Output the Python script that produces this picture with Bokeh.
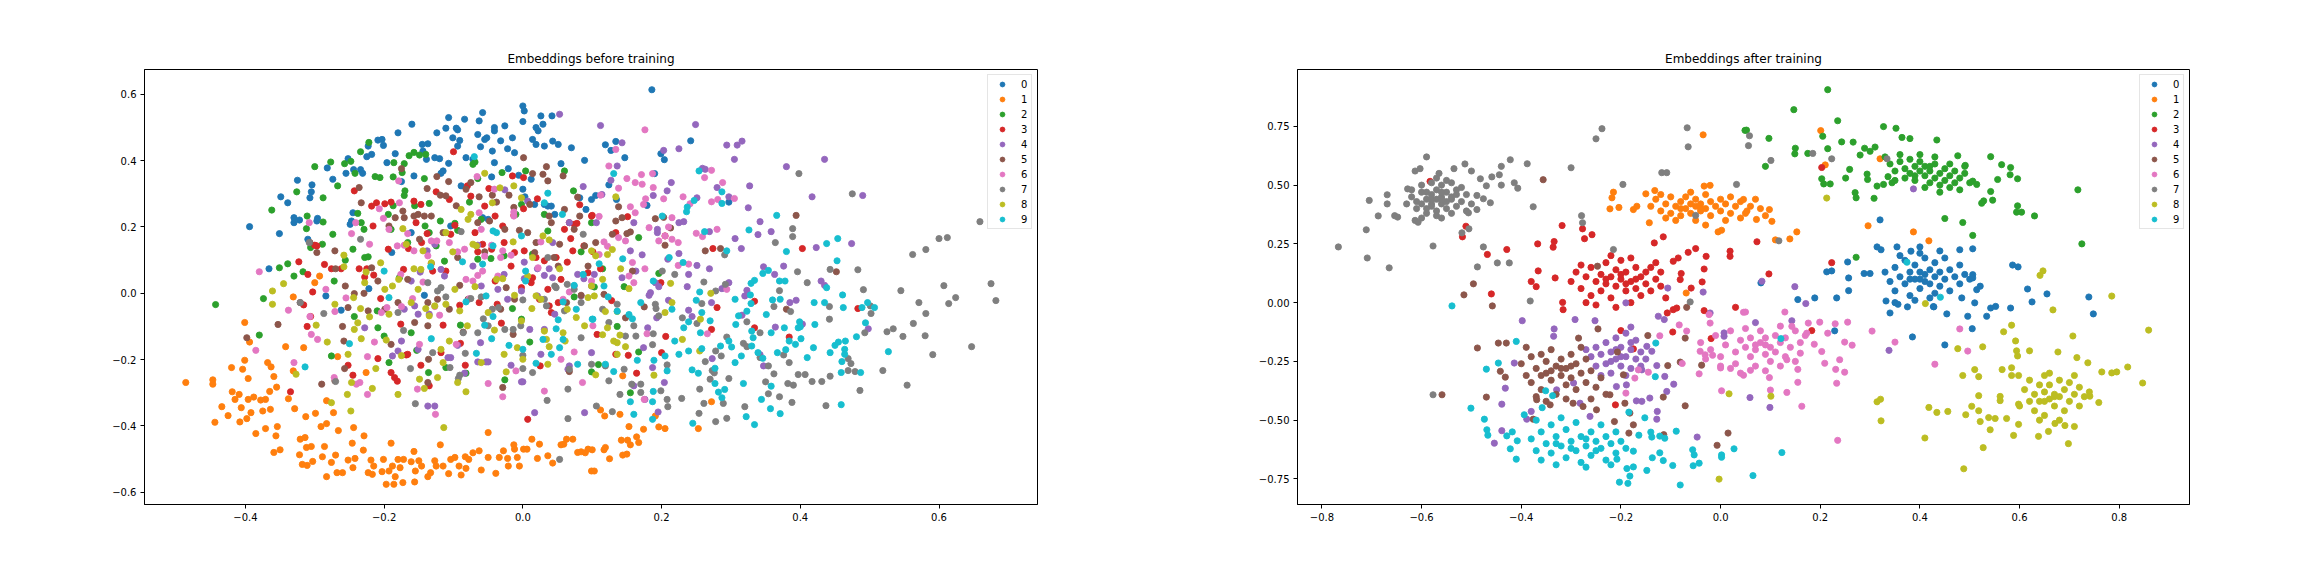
from bokeh.embed import file_html
from bokeh.layouts import row
from bokeh.models import CustomJSTickFormatter, FixedTicker, Range1d
from bokeh.plotting import figure
from bokeh.resources import INLINE

LABELS = ["0", "1", "2", "3", "4", "5", "6", "7", "8", "9"]
COLORS = ["#1f77b4", "#ff7f0e", "#2ca02c", "#d62728", "#9467bd",
          "#8c564b", "#e377c2", "#7f7f7f", "#bcbd22", "#17becf"]

# ---- embeddings before training, one list of (x, y) per digit ----
BEFORE_0 = [(-0.394,0.201),(-0.366,0.074),(-0.351,0.18),(-0.349,0.291),(-0.339,0.273),(-0.33,0.228),(-0.33,0.213),(-0.325,0.341),
            (-0.322,0.221),(-0.307,0.288),(-0.304,0.327),(-0.305,0.306),(-0.297,0.218),(-0.296,0.226),(-0.31,0.163),(-0.282,0.378),
            (-0.274,0.344),(-0.284,-0.008),(-0.262,-0.051),(-0.255,0.362),(-0.252,0.406),(-0.247,0.218),(-0.249,0.208),(-0.245,0.243),
            (-0.244,0.373),(-0.234,0.373),(-0.231,0.362),(-0.225,0.412),(-0.218,0.419),(-0.223,0.444),(-0.209,0.462),(-0.203,0.464),
            (-0.201,0.446),(-0.196,0.394),(-0.184,0.421),(-0.18,0.484),(-0.175,0.337),(-0.16,0.51),(-0.157,0.354),(-0.145,0.449),
            (-0.144,0.429),(-0.137,0.451),(-0.139,0.404),(-0.127,0.409),(-0.124,0.484),(-0.12,0.406),(-0.118,0.362),(-0.115,0.369),
            (-0.111,0.498),(-0.107,0.53),(-0.107,0.392),(-0.101,0.469),(-0.096,0.498),(-0.094,0.493),(-0.094,0.444),(-0.091,0.461),
            (-0.089,0.324),(-0.084,0.525),(-0.082,0.409),(-0.072,0.404),(-0.065,0.479),(-0.063,0.52),(-0.061,0.442),(-0.058,0.545),
            (-0.055,0.464),(-0.052,0.469),(-0.045,0.351),(-0.044,0.429),(-0.041,0.394),(-0.041,0.5),(-0.041,0.49),(-0.032,0.46),
            (-0.026,0.505),(-0.022,0.436),(-0.021,0.376),(-0.015,0.469),(-0.012,0.424),(0.0,0.565),(0.002,0.55),(0.0,0.518),
            (0.014,0.464),(0.019,0.449),(0.019,0.5),(0.022,0.49),(0.026,0.535),(0.029,0.51),(0.031,0.444),(0.042,0.535),
            (0.043,0.459),(0.051,0.449),(0.055,0.391),(0.07,0.439),(0.089,0.401),(0.031,0.268),(0.036,0.263),(0.041,0.263),
            (0.046,0.238),(0.003,0.291),(0.012,0.344),(-0.05,0.223),(-0.058,0.228),(-0.104,0.203),(-0.161,0.183),(-0.189,0.123),
            (-0.222,0.014),(-0.142,-0.006),(0.091,0.253),(0.099,0.283),(0.082,0.288),(0.017,0.268),(0.0,0.314),(-0.006,0.356),
            (0.186,0.614),(0.134,0.458),(0.119,0.448),(0.127,0.431),(0.147,0.409),(0.199,0.421),(0.204,0.403),(0.242,0.46),
            (0.19,0.361),(0.124,0.327),(0.135,0.283),(0.179,0.265),(0.297,0.275),(0.105,0.295)]

BEFORE_1 = [(-0.486,-0.269),(-0.447,-0.261),(-0.447,-0.274),(-0.444,-0.389),(-0.434,-0.342),(-0.425,-0.369),(-0.419,-0.297),
            (-0.415,-0.32),(-0.409,-0.305),(-0.406,-0.345),(-0.408,-0.388),(-0.401,-0.088),(-0.404,-0.229),(-0.42,-0.224),
            (-0.401,-0.202),(-0.396,-0.257),(-0.396,-0.32),(-0.392,-0.36),(-0.398,-0.378),(-0.394,-0.147),(-0.388,-0.313),
            (-0.385,-0.423),(-0.378,-0.322),(-0.375,-0.355),(-0.371,-0.32),(-0.371,-0.408),(-0.368,-0.209),(-0.363,-0.222),
            (-0.364,-0.35),(-0.359,-0.251),(-0.365,-0.296),(-0.355,-0.283),(-0.356,-0.43),(-0.354,-0.402),(-0.359,-0.48),
            (-0.35,-0.472),(-0.342,-0.161),(-0.338,-0.318),(-0.331,-0.011),(-0.329,-0.348),(-0.316,-0.164),(-0.313,-0.372),
            (-0.321,-0.44),(-0.314,-0.435),(-0.322,-0.487),(-0.318,-0.516),(-0.312,-0.465),(-0.311,-0.519),(-0.305,-0.462),
            (-0.303,-0.507),(-0.299,-0.362),(-0.291,-0.402),(-0.283,-0.324),(-0.283,-0.393),(-0.283,-0.553),(-0.286,-0.462),
            (-0.289,-0.493),(-0.276,-0.51),(-0.273,-0.36),(-0.27,-0.488),(-0.268,-0.541),(-0.266,-0.414),(-0.26,-0.541),
            (-0.252,-0.503),(-0.246,-0.452),(-0.245,-0.526),(-0.244,-0.405),(-0.242,-0.498),(-0.23,-0.473),(-0.229,-0.43),
            (-0.226,-0.239),(-0.223,-0.541),(-0.219,-0.503),(-0.217,-0.546),(-0.215,-0.521),(-0.203,-0.538),(-0.201,-0.501),
            (-0.197,-0.576),(-0.193,-0.536),(-0.19,-0.452),(-0.188,-0.521),(-0.186,-0.576),(-0.184,-0.553),(-0.18,-0.501),
            (-0.177,-0.526),(-0.173,-0.571),(-0.172,-0.501),(-0.161,-0.508),(-0.157,-0.477),(-0.156,-0.569),(-0.155,-0.536),
            (-0.15,-0.505),(-0.146,-0.521),(-0.137,-0.553),(-0.133,-0.541),(-0.127,-0.505),(-0.125,-0.521),(-0.119,-0.457),
            (-0.115,-0.521),(-0.107,-0.544),(-0.104,-0.501),(-0.098,-0.495),(-0.092,-0.521),(-0.089,-0.548),(-0.083,-0.493),
            (-0.082,-0.528),(-0.078,-0.501),(-0.072,-0.481),(-0.063,-0.475),(-0.06,-0.533),(-0.05,-0.42),(-0.05,-0.495),
            (-0.039,-0.543),(-0.034,-0.495),(-0.028,-0.475),(-0.022,-0.498),(-0.021,-0.521),(-0.013,-0.457),(-0.012,-0.47),
            (-0.008,-0.495),(-0.005,-0.521),(0.001,-0.47),(0.006,-0.47),(0.013,-0.44),(0.021,-0.498),(0.024,-0.455),
            (0.036,-0.49),(0.043,-0.512),(0.055,-0.457),(0.059,-0.455),(0.063,-0.44),(0.072,-0.44),(0.079,-0.48),
            (0.084,-0.478),(0.09,-0.481),(0.094,-0.47),(0.099,-0.536),(-0.267,-0.191),(-0.331,-0.234),(-0.293,0.052),
            (-0.3,0.032),(0.103,-0.536),(0.1,-0.472),(0.117,-0.472),(0.119,-0.465),(0.125,-0.499),(0.144,-0.488),
            (0.15,-0.485),(0.142,-0.443),(0.151,-0.443),(0.155,-0.457),(0.164,-0.433),(0.167,-0.45),(0.174,-0.41),
            (0.153,-0.402),(0.14,-0.365),(0.118,-0.37),(0.112,-0.352),(0.144,-0.249),(0.196,-0.403),(0.205,-0.408),
            (0.191,-0.37),(0.253,-0.408),(0.272,-0.327)]

BEFORE_2 = [(-0.443,-0.034),(-0.374,-0.016),(-0.362,0.251),(-0.351,0.077),(-0.339,0.089),(-0.33,0.052),(-0.326,0.306),
            (-0.317,0.065),(-0.312,0.195),(-0.311,0.233),(-0.306,0.138),(-0.3,0.382),(-0.289,0.148),(-0.288,0.288),
            (-0.288,0.215),(-0.38,-0.126),(-0.277,0.396),(-0.276,-0.189),(-0.274,0.178),(-0.272,0.037),(-0.267,0.324),
            (-0.257,0.391),(-0.256,0.1),(-0.248,0.398),(-0.245,0.133),(-0.243,-0.07),(-0.242,0.362),(-0.238,0.241),
            (-0.234,0.427),(-0.233,0.213),(-0.229,0.193),(-0.228,0.108),(-0.223,0.11),(-0.222,0.455),(-0.213,0.352),
            (-0.21,-0.053),(-0.209,-0.104),(-0.206,0.349),(-0.2,-0.129),(-0.194,0.238),(-0.193,-0.209),(-0.19,0.193),
            (-0.187,0.264),(-0.187,0.351),(-0.186,0.394),(-0.178,0.047),(-0.174,0.364),(-0.171,0.391),(-0.17,0.309),
            (-0.166,0.153),(-0.164,0.415),(-0.161,-0.119),(-0.157,0.425),(-0.156,0.264),(-0.153,-0.172),(-0.149,0.417),
            (-0.142,0.346),(-0.141,0.203),(-0.14,0.419),(-0.136,-0.239),(-0.135,0.271),(-0.135,0.183),(-0.125,0.143),
            (-0.119,0.218),(-0.113,0.097),(-0.111,-0.224),(-0.098,0.211),(-0.094,0.19),(-0.09,-0.096),(-0.082,-0.241),
            (-0.077,0.275),(-0.072,0.389),(-0.069,0.396),(-0.065,0.103),(-0.06,0.223),(-0.046,0.105),(-0.03,0.364),
            (-0.027,0.113),(-0.026,-0.261),(-0.015,-0.046),(-0.002,-0.078),(0.004,0.369),(0.01,-0.147),(0.014,0.118),
            (0.031,0.238),(0.036,0.188),(0.06,0.369),(0.073,0.309),(0.074,-0.011),(0.084,0.125),(0.099,-0.237),
            (0.099,0.213),(-0.065,0.346),(-0.002,0.268),(-0.01,0.238),(-0.171,0.295),(0.167,0.168),(0.115,0.074),
            (0.103,0.019),(0.146,0.02),(0.167,-0.177),(0.109,-0.215),(0.155,-0.3),(0.196,0.06),(0.136,-0.1)]

BEFORE_3 = [(-0.335,-0.297),(-0.323,0.095),(-0.316,-0.035),(-0.311,-0.1),(-0.31,0.057),(-0.306,-0.07),(-0.303,0.004),
            (-0.3,0.145),(-0.297,0.143),(-0.286,0.087),(-0.276,0.074),(-0.262,0.074),(-0.252,-0.217),(-0.245,-0.247),
            (-0.243,0.309),(-0.236,0.074),(-0.228,0.049),(-0.225,0.074),(-0.218,0.263),(-0.216,0.203),(-0.215,0.055),
            (-0.211,0.273),(-0.209,-0.197),(-0.205,-0.016),(-0.199,0.27),(-0.194,0.133),(-0.19,0.275),(-0.19,-0.239),
            (-0.185,-0.254),(-0.181,-0.265),(-0.176,-0.093),(-0.172,0.072),(-0.168,-0.186),(-0.166,-0.184),(-0.165,0.135),
            (-0.157,0.278),(-0.154,0.213),(-0.147,-0.217),(-0.147,0.268),(-0.146,0.153),(-0.138,0.18),(-0.135,-0.279),
            (-0.132,0.09),(-0.13,0.067),(-0.125,0.306),(-0.118,-0.179),(-0.115,-0.096),(-0.111,0.067),(-0.106,0.283),
            (-0.104,0.178),(-0.1,0.427),(-0.098,0.205),(-0.091,-0.036),(-0.09,-0.151),(-0.083,-0.217),(-0.08,0.324),
            (-0.075,0.293),(-0.069,0.183),(-0.065,0.125),(-0.063,-0.028),(-0.058,0.148),(-0.055,0.263),(-0.049,0.316),
            (-0.045,0.133),(-0.04,0.037),(-0.04,0.233),(-0.037,-0.033),(-0.031,-0.09),(-0.029,0.203),(-0.027,0.153),
            (-0.017,0.082),(-0.013,0.235),(-0.015,0.354),(-0.012,0.123),(-0.002,0.017),(0.001,0.349),(0.001,0.255),
            (0.002,0.128),(0.007,-0.38),(0.012,0.032),(0.014,0.047),(0.019,0.108),(0.021,0.285),(0.024,-0.018),
            (0.025,-0.219),(0.031,0.098),(0.036,0.012),(0.038,-0.038),(0.041,-0.058),(0.048,0.108),(0.051,-0.028),
            (0.055,0.042),(0.06,0.193),(0.064,0.094),(0.067,0.213),(0.069,0.165),(0.072,0.128),(0.074,0.208),
            (0.078,0.211),(0.082,0.267),(0.088,0.143),(0.094,0.062),(0.099,0.233),(0.101,0.125),(0.1,0.235),
            (0.151,0.231),(0.134,0.183),(0.205,0.173),(0.199,0.032),(0.112,0.074),(0.128,-0.022),(0.107,-0.124),
            (0.134,-0.184),(0.152,-0.187),(0.164,-0.241),(0.206,-0.13),(0.2,-0.179),(0.274,0.135),(0.28,-0.043),
            (0.334,-0.024),(0.334,-0.104),(0.384,-0.132),(0.403,0.135),(0.483,-0.046),(0.272,-0.109)]

BEFORE_4 = [(0.053,0.54),(0.087,0.322),(0.007,0.278),(-0.026,0.312),(0.043,0.153),(0.067,0.213),(0.038,0.074),(0.043,0.047),
            (0.031,0.054),(0.002,0.094),(0.002,0.044),(0.021,0.074),(-0.002,0.007),(0.074,0.022),(0.079,0.057),(0.088,0.044),
            (0.099,0.022),(0.046,-0.063),(0.031,-0.109),(0.01,-0.109),(0.026,-0.184),(0.017,-0.36),(0.0,-0.267),
            (-0.017,-0.217),(-0.05,-0.207),(-0.065,-0.207),(-0.084,-0.241),(-0.108,-0.194),(-0.104,-0.194),(-0.094,-0.157),
            (-0.127,-0.34),(-0.151,-0.169),(-0.18,-0.174),(-0.188,-0.189),(-0.228,-0.104),(-0.175,-0.144),(-0.156,-0.038),
            (-0.151,-0.063),(-0.135,-0.063),(-0.161,0.037),(-0.148,0.064),(-0.138,0.128),(-0.118,0.072),(-0.113,0.052),
            (-0.072,0.082),(-0.06,0.022),(-0.036,0.012),(-0.027,0.057),(-0.022,-0.018),(-0.061,-0.149),(-0.053,-0.207),
            (-0.002,-0.267),(0.089,-0.36),(0.067,-0.219),(0.065,-0.229),(0.099,-0.179),(0.084,-0.008),(-0.127,0.148),
            (-0.171,-0.048),(-0.065,0.145),(0.021,-0.008),(-0.137,-0.34),(0.112,0.506),(0.249,0.509),(0.143,0.454),
            (0.203,0.431),(0.225,0.436),(0.136,0.384),(0.127,0.341),(0.214,0.334),(0.208,0.309),(0.188,0.295),
            (0.259,0.377),(0.263,0.374),(0.28,0.319),(0.294,0.447),(0.309,0.447),(0.316,0.459),(0.305,0.404),
            (0.327,0.324),(0.297,0.291),(0.325,0.258),(0.342,0.216),(0.358,0.186),(0.339,0.177),(0.306,0.165),
            (0.315,0.135),(0.269,0.186),(0.251,0.288),(0.225,0.213),(0.232,0.216),(0.225,0.12),(0.209,0.103),
            (0.194,0.193),(0.194,0.183),(0.16,0.213),(0.155,0.128),(0.172,0.116),(0.163,0.067),(0.143,0.047),
            (0.191,0.032),(0.196,0.02),(0.184,0.002),(0.182,-0.006),(0.21,-0.021),(0.239,0.057),(0.237,0.02),
            (0.251,0.084),(0.269,0.074),(0.287,0.014),(0.297,0.032),(0.272,-0.028),(0.239,-0.051),(0.244,-0.07),
            (0.193,-0.074),(0.18,-0.104),(0.174,-0.164),(0.187,-0.224),(0.204,-0.269),(0.16,-0.279),(0.176,-0.32),
            (0.195,-0.358),(0.273,-0.197),(0.323,0.009),(0.32,-0.008),(0.316,-0.066),(0.347,0.08),(0.363,0.057),
            (0.376,0.082),(0.385,-0.028),(0.394,-0.021),(0.403,-0.093),(0.364,-0.102),(0.347,-0.219),(0.342,-0.185),
            (0.38,0.382),(0.417,0.291),(0.435,0.404),(0.423,0.138),(0.43,0.037),(0.435,0.024),(0.474,0.15),
            (0.49,0.295),(0.498,-0.107),(0.106,0.213),(0.114,0.298),(0.103,0.057)]

BEFORE_5 = [(-0.398,-0.134),(-0.353,-0.094),(-0.321,-0.028),(-0.307,0.153),(-0.297,0.123),(-0.29,-0.274),(-0.271,0.128),
            (-0.27,0.074),(-0.271,-0.264),(-0.26,-0.1),(-0.258,-0.144),(-0.257,-0.227),(-0.256,0.022),(-0.252,-0.043),
            (-0.243,-0.001),(-0.236,0.319),(-0.233,0.273),(-0.229,0.0),(-0.223,-0.053),(-0.218,0.077),(-0.209,0.037),
            (-0.199,-0.048),(-0.193,0.203),(-0.19,-0.154),(-0.184,0.228),(-0.18,-0.028),(-0.175,0.376),(-0.173,0.248),
            (-0.171,0.228),(-0.166,0.042),(-0.157,0.233),(-0.156,-0.088),(-0.151,0.238),(-0.149,0.163),(-0.142,0.233),
            (-0.138,0.316),(-0.137,-0.098),(-0.137,-0.269),(-0.136,-0.199),(-0.132,0.233),(-0.124,0.352),(-0.123,-0.018),
            (-0.119,0.296),(-0.115,0.183),(-0.111,0.294),(-0.107,0.337),(-0.106,-0.048),(-0.096,0.264),(-0.094,0.108),
            (-0.086,-0.117),(-0.082,0.314),(-0.079,-0.018),(-0.075,0.334),(-0.065,0.213),(-0.063,0.291),(-0.055,0.125),
            (-0.048,0.218),(-0.044,0.296),(-0.038,0.275),(-0.032,-0.048),(-0.026,0.193),(-0.024,0.017),(-0.02,0.296),
            (-0.014,-0.124),(-0.013,0.259),(-0.012,-0.018),(-0.005,0.19),(0.001,0.409),(0.007,0.183),(0.01,0.268),
            (0.014,0.361),(0.017,0.123),(0.019,0.153),(0.029,0.359),(0.034,0.382),(0.036,0.339),(0.038,0.233),
            (0.041,0.213),(0.045,0.108),(0.051,0.082),(0.053,0.148),(0.058,0.354),(0.06,0.253),(0.063,-0.028),
            (0.067,-0.236),(0.074,0.193),(0.079,0.29),(0.084,-0.006),(0.082,0.233),(0.089,0.143),(0.094,0.082),
            (-0.029,-0.284),(-0.091,0.024),(-0.137,-0.028),(0.134,0.218),(0.143,0.228),(0.15,0.18),(0.155,0.185),
            (0.129,0.178),(0.138,0.261),(0.191,0.225),(0.205,0.145),(0.203,0.229),(0.213,0.197),(0.175,-0.041),
            (0.148,-0.074),(0.105,0.153),(0.263,0.128),(0.285,0.135),(0.394,0.235),(0.452,0.065),(0.38,-0.048),
            (0.158,0.067),(0.117,-0.003)]

BEFORE_6 = [(-0.38,0.065),(-0.385,-0.172),(-0.338,-0.051),(-0.33,-0.209),(-0.307,-0.07),(-0.305,-0.124),(-0.308,0.213),
            (-0.296,-0.139),(-0.284,0.012),(-0.272,-0.254),(-0.271,-0.055),(-0.255,-0.014),(-0.247,0.18),(-0.241,0.213),
            (-0.24,-0.274),(-0.235,-0.269),(-0.224,-0.305),(-0.224,-0.191),(-0.221,0.148),(-0.214,-0.147),(-0.207,0.255),
            (-0.204,-0.058),(-0.201,0.226),(-0.196,-0.043),(-0.193,0.193),(-0.181,0.143),(-0.179,0.339),(-0.178,0.273),
            (-0.175,-0.04),(-0.176,0.057),(-0.171,0.145),(-0.166,0.18),(-0.159,-0.016),(-0.157,0.128),(-0.152,-0.289),
            (-0.149,-0.154),(-0.144,0.034),(-0.137,0.113),(-0.132,0.158),(-0.127,-0.04),(-0.126,-0.365),(-0.124,0.158),
            (-0.12,-0.066),(-0.096,-0.154),(-0.094,0.125),(-0.084,0.133),(-0.082,0.042),(-0.077,-0.016),(-0.072,0.037),
            (-0.066,0.352),(-0.065,0.054),(-0.063,0.243),(-0.06,0.193),(-0.058,0.067),(-0.05,-0.272),(-0.045,0.145),
            (-0.041,0.314),(-0.036,0.052),(-0.032,0.108),(-0.029,0.128),(-0.029,-0.312),(-0.017,0.115),(-0.013,0.233),
            (-0.013,0.245),(0.022,0.077),(0.026,0.155),(0.031,-0.295),(0.055,-0.199),(0.058,-0.018),(0.067,0.004),
            (0.074,-0.177),(0.086,-0.269),(0.099,0.037),(0.101,-0.098),(-0.01,-0.234),(-0.055,0.112),(-0.106,0.153),
            (0.176,0.493),(0.134,0.434),(0.124,0.384),(0.138,0.317),(0.15,0.346),(0.162,0.334),(0.172,0.329),
            (0.171,0.358),(0.187,0.361),(0.188,0.319),(0.112,0.296),(0.155,0.261),(0.162,0.243),(0.174,0.268),
            (0.177,0.285),(0.203,0.285),(0.215,0.228),(0.21,0.2),(0.196,0.158),(0.205,0.173),(0.215,0.163),
            (0.224,0.153),(0.182,0.198),(0.138,0.168),(0.11,0.232),(0.117,0.155),(0.122,0.142),(0.11,0.117),
            (0.148,0.158),(0.158,0.093),(0.153,0.052),(0.16,0.032),(0.176,0.074),(0.224,0.084),(0.239,0.088),
            (0.231,0.291),(0.241,0.27),(0.262,0.349),(0.272,0.371),(0.272,0.276),(0.281,0.283),(0.288,0.334),
            (0.305,0.286),(0.25,0.181),(0.259,0.171),(0.28,0.193),(0.294,0.012),(0.266,-0.122),(0.179,-0.122),
            (0.175,-0.32)]

BEFORE_7 = [(-0.321,-0.028),(-0.308,0.153),(-0.287,-0.061),(-0.27,-0.266),(-0.234,0.163),(-0.172,-0.112),(-0.162,-0.227),
            (-0.155,-0.333),(-0.13,-0.179),(-0.123,0.007),(-0.118,0.017),(-0.111,-0.011),(-0.105,-0.224),(-0.093,-0.257),
            (-0.091,-0.247),(-0.089,0.186),(-0.086,-0.119),(-0.083,-0.181),(-0.075,-0.016),(-0.06,-0.011),(-0.057,-0.077),
            (-0.044,-0.048),(-0.035,-0.043),(-0.026,-0.109),(-0.014,-0.109),(-0.003,-0.098),(0.0,-0.02),(0.0,-0.227),
            (0.0,-0.187),(0.014,-0.239),(0.031,-0.018),(0.034,-0.038),(0.035,-0.323),(0.036,0.108),(0.046,0.022),
            (0.048,0.017),(0.065,-0.289),(0.065,-0.378),(0.053,-0.501),(0.064,0.027),(0.067,-0.229),(0.074,0.012),
            (0.084,-0.134),(0.087,0.178),(0.099,-0.214),(0.084,-0.028),(0.06,-0.053),(-0.05,-0.098),(-0.065,-0.119),
            (-0.137,0.032),(-0.18,-0.058),(0.398,0.361),(0.475,0.3),(0.389,0.195),(0.389,0.171),(0.364,0.153),
            (0.659,0.216),(0.612,0.168),(0.6,0.165),(0.581,0.132),(0.562,0.117),(0.483,0.071),(0.396,0.065),
            (0.41,0.032),(0.37,0.008),(0.491,0.011),(0.545,0.008),(0.607,0.023),(0.624,-0.013),(0.614,-0.031),
            (0.675,0.029),(0.682,-0.022),(0.571,-0.028),(0.581,-0.061),(0.563,-0.091),(0.548,-0.13),(0.58,-0.128),
            (0.591,-0.185),(0.647,-0.161),(0.554,-0.277),(0.525,-0.116),(0.534,-0.107),(0.519,-0.233),(0.502,-0.061),
            (0.493,-0.119),(0.486,-0.293),(0.479,-0.236),(0.469,-0.233),(0.473,-0.212),(0.469,-0.197),(0.442,-0.04),
            (0.442,-0.078),(0.443,-0.25),(0.437,-0.339),(0.417,-0.266),(0.431,-0.266),(0.407,-0.245),(0.397,-0.245),
            (0.39,-0.277),(0.382,-0.272),(0.388,-0.329),(0.37,-0.312),(0.384,-0.209),(0.376,-0.186),(0.362,-0.243),
            (0.354,-0.219),(0.35,-0.267),(0.354,-0.303),(0.342,-0.194),(0.342,-0.119),(0.32,-0.342),(0.323,-0.086),
            (0.323,-0.161),(0.318,-0.151),(0.297,-0.257),(0.294,-0.377),(0.289,-0.332),(0.278,-0.387),(0.261,-0.332),
            (0.254,-0.362),(0.255,-0.289),(0.27,-0.259),(0.276,-0.24),(0.273,-0.233),(0.263,-0.206),(0.286,-0.189),
            (0.278,-0.174),(0.294,-0.132),(0.251,-0.091),(0.23,-0.074),(0.188,-0.122),(0.187,-0.155),(0.208,-0.216),
            (0.208,-0.32),(0.209,-0.342),(0.229,-0.317),(0.199,-0.294),(0.17,-0.299),(0.17,-0.274),(0.157,-0.274),
            (0.14,-0.305),(0.129,-0.357),(0.106,-0.34),(0.124,-0.264),(0.146,-0.229),(0.119,-0.219),(0.148,-0.129),
            (0.16,-0.098),(0.124,-0.088),(0.136,-0.033),(0.115,-0.048),(0.192,-0.046),(0.191,-0.033),(0.196,-0.068),
            (0.201,0.067),(0.219,0.057),(0.261,0.034),(0.258,-0.031),(0.362,-0.04),(0.386,-0.055),(0.443,0.072),
            (0.501,-0.038),(0.291,0.116),(0.292,0.027),(0.278,0.007),(0.163,-0.129)]

BEFORE_8 = [(-0.361,0.007),(-0.361,-0.033),(-0.345,0.029),(-0.327,-0.244),(-0.298,-0.096),(-0.282,-0.147),(-0.276,-0.33),
            (-0.271,-0.033),(-0.258,0.115),(-0.258,0.08),(-0.252,-0.184),(-0.253,-0.305),(-0.248,-0.355),(-0.247,-0.269),
            (-0.244,-0.013),(-0.243,-0.109),(-0.238,-0.089),(-0.234,-0.046),(-0.233,-0.137),(-0.228,0.032),(-0.226,0.064),
            (-0.221,-0.071),(-0.217,-0.287),(-0.212,-0.227),(-0.205,0.092),(-0.199,0.012),(-0.197,-0.141),(-0.193,-0.063),
            (-0.188,0.022),(-0.18,-0.305),(-0.179,0.042),(-0.175,-0.188),(-0.173,0.195),(-0.168,0.148),(-0.161,-0.028),
            (-0.157,0.074),(-0.151,0.012),(-0.149,-0.259),(-0.147,0.072),(-0.144,0.128),(-0.142,-0.287),(-0.14,-0.046),
            (-0.135,-0.068),(-0.132,0.092),(-0.127,-0.038),(-0.123,-0.254),(-0.118,-0.169),(-0.115,-0.209),(-0.114,-0.405),
            (-0.111,-0.033),(-0.111,0.183),(-0.106,-0.144),(-0.101,0.125),(-0.098,0.012),(-0.094,-0.269),(-0.091,-0.053),
            (-0.089,0.253),(-0.082,-0.297),(-0.08,-0.098),(-0.079,0.223),(-0.075,0.238),(-0.072,0.148),(-0.069,0.02),
            (-0.067,0.143),(-0.06,-0.209),(-0.055,0.362),(-0.05,-0.058),(-0.044,0.273),(-0.041,-0.111),(-0.038,0.042),
            (-0.033,0.318),(-0.029,0.044),(-0.027,-0.184),(-0.024,-0.237),(-0.014,0.155),(-0.013,0.324),(-0.012,-0.006),
            (-0.008,-0.164),(-0.002,0.288),(-0.002,-0.083),(0.0,-0.199),(0.007,0.052),(0.013,-0.046),(0.014,0.108),
            (0.019,-0.008),(0.026,-0.018),(0.029,0.173),(0.031,-0.114),(0.034,-0.139),(0.036,-0.214),(0.038,0.161),
            (0.038,-0.161),(0.053,0.074),(0.058,-0.119),(0.061,-0.144),(0.064,-0.048),(0.077,-0.073),(0.089,-0.098),
            (0.099,0.128),(0.099,0.022),(0.094,-0.013),(0.134,0.291),(0.122,0.117),(0.129,0.132),(0.105,0.113),
            (0.141,0.074),(0.115,0.042),(0.153,0.014),(0.103,-0.008),(0.122,-0.104),(0.131,-0.144),(0.136,-0.149),
            (0.14,-0.126),(0.148,-0.161),(0.136,-0.184),(0.105,-0.246),(0.115,-0.125),(0.213,0.03),(0.215,-0.028),
            (0.205,-0.058),(0.189,-0.247),(0.271,0.0),(0.256,-0.078),(0.255,-0.174),(0.23,-0.139),(0.119,-0.055),
            (0.136,-0.055)]

BEFORE_9 = [(-0.314,-0.222),(-0.25,-0.152),(-0.193,-0.013),(-0.133,0.08),(-0.07,0.412),(-0.043,0.188),(-0.043,0.143),
            (-0.053,-0.008),(-0.087,0.095),(-0.082,-0.026),(-0.067,-0.181),(-0.055,-0.096),(-0.045,-0.137),(-0.043,-0.07),
            (-0.02,-0.157),(-0.002,0.173),(0.0,-0.169),(0.004,0.067),(0.004,0.037),(0.036,0.302),(0.057,0.238),
            (0.041,-0.184),(0.019,-0.211),(0.048,-0.107),(0.051,-0.08),(0.058,-0.139),(0.058,-0.026),(0.074,0.024),
            (0.077,-0.048),(0.079,-0.214),(0.087,0.057),(0.101,-0.078),(0.053,-0.164),(0.029,-0.139),(-0.058,0.088),
            (-0.038,0.183),(-0.132,-0.137),(-0.2,0.067),(0.031,0.273),(0.131,0.361),(0.254,0.369),(0.247,0.28),
            (0.237,0.26),(0.236,0.246),(0.201,0.233),(0.287,0.306),(0.287,0.271),(0.326,0.191),(0.262,0.186),
            (0.294,0.128),(0.366,0.235),(0.38,0.126),(0.438,0.15),(0.454,0.165),(0.453,0.098),(0.211,0.108),
            (0.231,0.093),(0.188,0.037),(0.144,0.104),(0.11,0.089),(0.117,0.022),(0.123,-0.011),(0.136,-0.054),
            (0.153,-0.064),(0.158,-0.077),(0.17,-0.028),(0.215,-0.048),(0.232,-0.104),(0.239,-0.086),(0.255,0.004),
            (0.25,-0.021),(0.258,-0.058),(0.27,-0.083),(0.256,-0.119),(0.258,-0.167),(0.239,-0.174),(0.225,-0.184),
            (0.219,-0.144),(0.205,-0.189),(0.189,-0.202),(0.165,-0.202),(0.208,-0.234),(0.188,-0.296),(0.187,-0.327),
            (0.187,-0.38),(0.16,-0.365),(0.155,-0.327),(0.131,-0.236),(0.119,-0.214),(0.1,-0.078),(0.244,-0.231),
            (0.253,-0.241),(0.277,-0.226),(0.277,-0.272),(0.282,-0.298),(0.287,-0.315),(0.291,-0.29),(0.245,-0.392),
            (0.285,-0.159),(0.301,-0.162),(0.297,-0.144),(0.306,-0.209),(0.318,-0.272),(0.322,-0.372),(0.334,-0.396),
            (0.315,-0.189),(0.307,-0.094),(0.311,-0.068),(0.306,-0.018),(0.323,-0.054),(0.329,-0.031),(0.33,-0.114),
            (0.332,-0.134),(0.33,-0.159),(0.339,-0.179),(0.346,-0.196),(0.328,-0.005),(0.329,0.03),(0.334,0.039),
            (0.346,0.06),(0.354,0.069),(0.351,-0.064),(0.36,-0.02),(0.371,-0.018),(0.377,-0.104),(0.37,0.037),
            (0.378,0.037),(0.358,-0.119),(0.367,-0.179),(0.379,-0.17),(0.384,-0.144),(0.393,-0.154),(0.401,-0.137),
            (0.397,-0.104),(0.399,-0.086),(0.4,-0.101),(0.41,-0.194),(0.419,-0.164),(0.42,-0.028),(0.421,-0.094),
            (0.435,-0.028),(0.438,0.017),(0.443,-0.179),(0.45,-0.157),(0.455,-0.147),(0.46,-0.206),(0.459,-0.239),
            (0.462,-0.043),(0.461,-0.005),(0.465,-0.144),(0.464,-0.169),(0.464,-0.184),(0.481,-0.131),(0.487,-0.239),
            (0.489,-0.043),(0.494,-0.089),(0.497,-0.028),(0.507,-0.043),(0.527,-0.176),(0.459,-0.336),(0.371,-0.363),
            (0.357,-0.348),(0.344,-0.32),(0.358,-0.28)]

# ---- embeddings after training ----
AFTER_0 = [(0.33,0.13),(0.34,0.09),(0.35,0.15),(0.35,0.05),(0.36,0.11),(0.37,0.18),(0.37,0.08),(0.38,0.13),(0.38,0.03),
           (0.39,0.16),(0.39,0.10),(0.40,0.06),(0.40,0.13),(0.41,0.19),(0.41,0.09),(0.42,0.14),(0.42,0.02),(0.43,0.11),
           (0.43,0.17),(0.44,0.07),(0.44,0.13),(0.45,0.10),(0.45,0.19),(0.46,0.05),(0.46,0.14),(0.47,0.11),(0.48,0.08),
           (0.48,0.16),(0.49,0.12),(0.50,0.10),(0.36,0.20),(0.40,0.21),(0.44,0.22),(0.39,0.01),(0.43,0.04),(0.35,0.00),
           (0.41,0.12),(0.40,0.10),(0.42,0.08),(0.38,0.10),(0.32,0.352),(0.314,0.237),(0.322,0.225),(0.40,0.237),
           (0.382,0.219),(0.354,0.237),(0.255,0.173),(0.288,0.124),(0.30,0.124),(0.257,0.105),(0.213,0.131),(0.223,0.135),
           (0.257,0.051),(0.233,0.02),(0.189,0.02),(0.155,0.013),(0.081,0.084),(0.229,-0.12),(0.385,-0.146),(0.45,-0.18),
           (0.34,-0.044),(0.375,-0.018),(0.428,-0.018),(0.454,-0.048),(0.48,0.225),(0.506,0.229),(0.506,0.119),(0.506,0.105),
           (0.521,0.07),(0.514,0.055),(0.51,-0.001),(0.496,-0.058),(0.534,-0.058),(0.542,-0.023),(0.552,-0.016),(0.582,-0.023),
           (0.505,-0.111),(0.586,0.16),(0.597,0.152),(0.616,0.058),(0.625,0.003),(0.655,0.037),(0.739,0.024),(0.748,-0.048),
           (0.332,0.007),(0.356,-0.007),(0.427,-0.017),(0.484,0.02)]

AFTER_1 = [(-0.14,0.41),(-0.13,0.44),(-0.12,0.39),(-0.11,0.42),(-0.10,0.45),(-0.10,0.38),(-0.09,0.41),(-0.08,0.43),(-0.08,0.37),
           (-0.07,0.40),(-0.07,0.45),(-0.06,0.42),(-0.06,0.38),(-0.05,0.41),(-0.05,0.44),(-0.04,0.39),(-0.04,0.42),(-0.03,0.40),
           (-0.03,0.46),(-0.02,0.43),(-0.02,0.37),(-0.01,0.41),(0.0,0.44),(0.0,0.39),(0.01,0.42),(0.02,0.38),(0.02,0.45),
           (0.03,0.41),(0.04,0.43),(0.05,0.38),(0.06,0.41),(0.08,0.40),(0.09,0.37),(-0.09,0.35),(-0.05,0.35),(-0.12,0.46),
           (-0.06,0.47),(0.01,0.35),(-0.03,0.33),(-0.11,0.36),(0.04,0.36),(0.07,0.44),(-0.08,0.40),(-0.04,0.40),
           (-0.218,0.446),(-0.215,0.47),(-0.222,0.399),(-0.204,0.405),(-0.175,0.396),(-0.168,0.41),(-0.15,0.463),(-0.143,0.34),
           (-0.132,0.477),(-0.035,0.714),(-0.033,0.496),(-0.021,0.499),(-0.005,0.301),(0.002,0.308),(0.201,0.732),(0.21,0.586),
           (0.32,0.612),(0.296,0.327),(0.387,0.301),(0.418,0.263),(0.153,0.301),(0.139,0.271),(0.11,0.267),(0.098,0.396),
           (0.103,0.346),(0.072,0.354),(0.053,0.39),(0.046,0.439),(-0.069,0.041)]

AFTER_2 = [(0.34,0.59),(0.35,0.56),(0.36,0.60),(0.37,0.57),(0.37,0.53),(0.38,0.61),(0.38,0.55),(0.39,0.58),(0.39,0.52),
           (0.40,0.56),(0.40,0.60),(0.41,0.54),(0.41,0.58),(0.42,0.51),(0.42,0.56),(0.43,0.59),(0.43,0.53),(0.44,0.55),
           (0.44,0.50),(0.45,0.57),(0.45,0.52),(0.46,0.54),(0.46,0.49),(0.47,0.56),(0.47,0.51),(0.48,0.53),(0.48,0.48),
           (0.49,0.55),(0.50,0.51),(0.36,0.63),(0.40,0.63),(0.43,0.62),(0.33,0.62),(0.35,0.52),(0.41,0.49),(0.44,0.47),
           (0.39,0.54),(0.42,0.58),(0.46,0.59),(0.49,0.58),(0.215,0.906),(0.147,0.821),(0.235,0.774),(0.205,0.708),
           (0.215,0.655),(0.15,0.657),(0.149,0.633),(0.175,0.635),(0.097,0.699),(0.09,0.58),(0.052,0.734),(0.243,0.684),
           (0.266,0.683),(0.203,0.527),(0.207,0.505),(0.22,0.505),(0.251,0.53),(0.259,0.567),(0.27,0.468),(0.272,0.446),
           (0.308,0.444),(0.28,0.628),(0.289,0.657),(0.30,0.644),(0.31,0.662),(0.327,0.749),(0.352,0.742),(0.364,0.703),
           (0.38,0.698),(0.434,0.692),(0.294,0.547),(0.295,0.524),(0.314,0.496),(0.327,0.503),(0.336,0.536),(0.344,0.51),
           (0.45,0.358),(0.486,0.341),(0.506,0.286),(0.528,0.433),(0.524,0.423),(0.546,0.436),(0.542,0.473),(0.556,0.524),
           (0.542,0.621),(0.564,0.587),(0.582,0.575),(0.581,0.544),(0.596,0.527),(0.596,0.412),(0.604,0.385),(0.594,0.385),
           (0.63,0.369),(0.717,0.48),(0.725,0.25),(0.476,0.625),(0.491,0.584),(0.514,0.503),(0.506,0.517),(0.272,0.193),
           (0.049,0.733)]

AFTER_3 = [(-0.30,0.09),(-0.29,0.13),(-0.28,0.06),(-0.27,0.11),(-0.26,0.15),(-0.26,0.03),(-0.25,0.09),(-0.24,0.12),(-0.24,0.05),
           (-0.23,0.17),(-0.23,0.08),(-0.22,0.11),(-0.22,0.02),(-0.21,0.14),(-0.21,0.07),(-0.20,0.10),(-0.20,0.18),(-0.19,0.05),
           (-0.19,0.13),(-0.18,0.09),(-0.18,0.00),(-0.17,0.15),(-0.17,0.06),(-0.16,0.11),(-0.16,0.03),(-0.15,0.13),(-0.15,0.08),
           (-0.14,0.05),(-0.14,0.15),(-0.13,0.10),(-0.12,0.07),(-0.12,0.13),(-0.11,0.02),(-0.25,-0.01),(-0.21,-0.02),(-0.28,0.16),
           (-0.22,0.20),(-0.18,0.19),(-0.27,0.00),(-0.13,0.17),(-0.20,0.12),(-0.23,0.10),(-0.17,0.10),(-0.19,0.08),
           (-0.318,0.328),(-0.277,0.314),(-0.258,0.289),(-0.273,0.272),(-0.367,0.25),(-0.334,0.26),(-0.336,0.236),(-0.429,0.226),
           (-0.468,0.205),(-0.366,0.135),(-0.332,0.105),(-0.38,0.09),(-0.37,0.068),(-0.46,0.037),(-0.317,0.001),(-0.316,-0.03),
           (-0.133,0.254),(-0.115,0.28),(-0.095,0.176),(-0.085,0.19),(-0.065,0.214),(-0.05,0.23),(-0.029,0.197),(-0.033,0.143),
           (-0.037,0.088),(-0.059,0.062),(-0.079,0.124),(-0.081,0.098),(0.019,0.219),(0.019,0.197),(-0.033,-0.034),(0.03,-0.02),
           (-0.019,-0.153),(-0.096,-0.125),(-0.095,-0.03),(-0.088,-0.023),(-0.107,-0.044),(-0.211,-0.435),(-0.2,-0.119),
           (-0.175,-0.197),(-0.511,0.325),(-0.518,0.28),(-0.583,0.516),(0.073,0.259),(0.223,0.17),(0.097,0.122),(0.203,0.575),
           (0.183,-0.119)]

AFTER_4 = [(-0.26,-0.23),(-0.25,-0.19),(-0.25,-0.27),(-0.24,-0.22),(-0.23,-0.17),(-0.23,-0.26),(-0.22,-0.21),(-0.22,-0.30),
           (-0.21,-0.24),(-0.21,-0.15),(-0.20,-0.19),(-0.20,-0.27),(-0.19,-0.23),(-0.19,-0.13),(-0.18,-0.20),(-0.18,-0.28),
           (-0.17,-0.24),(-0.17,-0.16),(-0.16,-0.21),(-0.16,-0.27),(-0.24,-0.31),(-0.19,-0.31),(-0.27,-0.20),(-0.15,-0.24),
           (-0.21,-0.20),(-0.20,-0.23),(-0.22,-0.25),(-0.18,-0.17),(-0.398,-0.077),(-0.334,-0.112),(-0.292,-0.072),
           (-0.252,-0.077),(-0.18,-0.104),(-0.106,0.062),(-0.035,0.045),(-0.021,-0.044),(-0.19,-0.001),(-0.125,-0.058),
           (-0.113,-0.072),(-0.148,-0.186),(-0.138,-0.207),(-0.128,-0.268),(-0.158,-0.286),(-0.112,-0.314),(-0.094,-0.347),
           (-0.108,-0.378),(-0.142,-0.406),(-0.158,-0.42),(-0.169,-0.418),(-0.127,-0.463),(-0.128,-0.496),(-0.047,-0.572),
           (0.007,-0.129),(0.007,-0.143),(-0.414,-0.257),(-0.432,-0.364),(-0.439,-0.432),(-0.38,-0.463),(-0.389,-0.496),
           (-0.439,-0.545),(-0.454,-0.598),(-0.262,-0.484),(-0.282,-0.428),(-0.335,-0.143),(-0.295,-0.342),(-0.329,-0.371),
           (-0.209,-0.357),(-0.189,-0.35),(0.387,0.484),(0.083,0.091),(0.149,0.068),(0.171,-0.004),(0.143,-0.077),
           (0.07,-0.085),(0.338,-0.203),(0.059,-0.404),(0.099,-0.446)]

AFTER_5 = [(-0.40,-0.26),(-0.39,-0.31),(-0.38,-0.23),(-0.38,-0.34),(-0.37,-0.28),(-0.36,-0.22),(-0.36,-0.37),(-0.35,-0.30),
           (-0.35,-0.25),(-0.34,-0.33),(-0.34,-0.20),(-0.33,-0.27),(-0.33,-0.39),(-0.32,-0.31),(-0.32,-0.24),(-0.31,-0.35),
           (-0.31,-0.28),(-0.30,-0.22),(-0.30,-0.32),(-0.29,-0.26),(-0.29,-0.37),(-0.28,-0.30),(-0.27,-0.34),(-0.27,-0.24),
           (-0.26,-0.29),(-0.25,-0.36),(-0.24,-0.32),(-0.23,-0.39),(-0.37,-0.40),(-0.35,-0.42),(-0.31,-0.41),(-0.26,-0.41),
           (-0.28,-0.19),(-0.39,-0.19),(-0.34,-0.29),(-0.32,-0.28),(-0.36,-0.31),(-0.30,-0.27),(-0.356,0.523),(-0.496,0.08),
           (-0.515,0.033),(-0.458,-0.014),(-0.446,-0.172),(-0.43,-0.172),(-0.488,-0.193),(-0.442,-0.292),(-0.432,-0.317),
           (-0.47,-0.402),(-0.559,-0.392),(-0.247,0.155),(-0.246,-0.112),(-0.285,-0.151),(-0.146,-0.14),(-0.071,-0.151),
           (-0.106,-0.268),(-0.115,-0.402),(-0.071,-0.439),(-0.114,-0.562),(-0.184,-0.555),(-0.213,-0.506),(-0.192,-0.428),
           (-0.207,-0.21),(-0.068,-0.02),(-0.038,-0.266),(-0.081,-0.253),(-0.007,-0.607),(0.015,-0.555),(-0.222,-0.392),
           (-0.195,-0.307),(-0.249,-0.456),(-0.276,-0.442),(-0.296,-0.428),(-0.342,-0.435),(-0.369,-0.413),(-0.376,-0.496),
           (-0.182,-0.47),(-0.175,-0.52)]

AFTER_6 = [(-0.04,-0.17),(-0.02,-0.20),(-0.01,-0.14),(0.0,-0.23),(0.01,-0.18),(0.02,-0.12),(0.03,-0.21),(0.03,-0.26),
           (0.04,-0.16),(0.05,-0.19),(0.05,-0.11),(0.06,-0.23),(0.06,-0.15),(0.07,-0.20),(0.07,-0.27),(0.08,-0.17),
           (0.08,-0.12),(0.09,-0.22),(0.09,-0.15),(0.10,-0.19),(0.10,-0.25),(0.11,-0.14),(0.11,-0.21),(0.12,-0.17),
           (0.12,-0.10),(0.13,-0.23),(0.13,-0.15),(0.14,-0.19),(0.15,-0.12),(0.15,-0.25),(0.16,-0.17),(0.17,-0.14),
           (0.02,-0.28),(0.04,-0.30),(0.0,-0.27),(0.09,-0.29),(0.12,-0.27),(-0.03,-0.24),(0.07,-0.18),(0.09,-0.18),
           (-0.083,-0.095),(-0.068,-0.121),(-0.023,-0.051),(-0.021,-0.087),(-0.041,-0.207),(-0.031,-0.222),(-0.016,-0.224),
           (-0.043,-0.303),(0.0,-0.278),(0.002,-0.375),(-0.077,-0.259),(-0.122,-0.141),(-0.145,-0.296),(-0.165,-0.286),
           (-0.172,-0.321),(-0.19,-0.385),(0.046,-0.041),(0.05,-0.04),(0.129,-0.04),(0.199,-0.083),(0.23,-0.09),
           (0.255,-0.083),(0.215,-0.13),(0.249,-0.168),(0.264,-0.181),(0.188,-0.177),(0.203,-0.208),(0.209,-0.258),
           (0.239,-0.243),(0.231,-0.284),(0.249,-0.296),(0.233,-0.343),(0.155,-0.284),(0.155,-0.339),(0.133,-0.382),
           (0.163,-0.441),(0.235,-0.586),(0.304,-0.121),(0.35,-0.168),(0.43,-0.262),(0.48,-0.112),(0.496,-0.206),
           (0.098,-0.319),(0.1,-0.372),(0.06,-0.288),(0.046,-0.309),(0.173,-0.13),(0.176,-0.087),(0.143,-0.101),
           (0.16,-0.215),(0.133,-0.243)]

AFTER_7 = [(-0.60,0.47),(-0.59,0.44),(-0.58,0.46),(-0.57,0.48),(-0.56,0.45),(-0.55,0.47),(-0.54,0.44),(-0.53,0.46),
           (-0.58,0.42),(-0.56,0.42),(-0.55,0.40),(-0.57,0.39),(-0.59,0.40),(-0.61,0.43),(-0.62,0.45),(-0.60,0.50),
           (-0.58,0.51),(-0.56,0.50),(-0.54,0.51),(-0.52,0.49),(-0.51,0.46),(-0.52,0.43),(-0.53,0.41),(-0.54,0.38),
           (-0.57,0.37),(-0.59,0.38),(-0.61,0.40),(-0.63,0.42),(-0.58,0.44),(-0.56,0.47),(-0.55,0.43),(-0.57,0.44),
           (-0.59,0.47),(-0.53,0.48),(-0.60,0.42),(-0.55,0.52),(-0.62,0.48),(-0.50,0.42),(-0.51,0.39),(-0.56,0.36),
           (-0.60,0.36),(-0.57,0.53),(-0.58,0.41),(-0.54,0.45),(-0.56,0.44),(-0.59,0.62),(-0.613,0.56),(-0.603,0.57),
           (-0.565,0.55),(-0.535,0.57),(-0.513,0.59),(-0.50,0.56),(-0.482,0.527),(-0.459,0.535),(-0.444,0.544),(-0.44,0.58),
           (-0.422,0.608),(-0.388,0.591),(-0.44,0.50),(-0.47,0.497),(-0.414,0.51),(-0.407,0.487),(-0.462,0.425),(-0.476,0.442),
           (-0.489,0.456),(-0.489,0.396),(-0.506,0.382),(-0.30,0.574),(-0.376,0.408),(-0.279,0.37),(-0.277,0.34),(-0.25,0.697),
           (-0.238,0.74),(-0.705,0.435),(-0.669,0.459),(-0.669,0.42),(-0.687,0.369),(-0.711,0.31),(-0.767,0.237),(-0.709,0.19),
           (-0.665,0.148),(-0.577,0.241),(-0.519,0.297),(-0.505,0.314),(-0.476,0.237),(-0.488,0.152),(-0.448,0.169),
           (-0.424,0.169),(-0.382,0.007),(-0.577,-0.392),(-0.654,0.37),(-0.648,0.364),(-0.628,0.484),(-0.613,0.35),
           (-0.607,0.342),(-0.215,0.226),(-0.196,0.503),(-0.118,0.553),(-0.108,0.553),(-0.067,0.744),(-0.065,0.663),
           (-0.05,0.371),(0.032,0.503),(-0.061,0.003),(0.058,0.71),(0.056,0.668),(0.101,0.605),(0.185,0.635),(0.223,0.612),
           (0.334,0.612),(0.117,0.263)]

AFTER_8 = [(0.61,-0.37),(0.62,-0.42),(0.62,-0.33),(0.63,-0.39),(0.63,-0.46),(0.64,-0.35),(0.64,-0.42),(0.65,-0.38),
           (0.65,-0.31),(0.65,-0.48),(0.66,-0.41),(0.66,-0.35),(0.67,-0.39),(0.67,-0.44),(0.68,-0.33),(0.68,-0.40),
           (0.69,-0.37),(0.69,-0.46),(0.70,-0.42),(0.70,-0.34),(0.71,-0.39),(0.72,-0.36),(0.72,-0.44),(0.73,-0.40),
           (0.74,-0.38),(0.60,-0.44),(0.64,-0.50),(0.68,-0.50),(0.71,-0.31),(0.66,-0.30),(0.67,-0.40),(0.65,-0.42),
           (0.641,0.116),(0.647,0.135),(0.667,-0.031),(0.785,0.028),(0.859,-0.117),(0.707,-0.142),(0.584,-0.096),
           (0.568,-0.124),(0.592,-0.163),(0.594,-0.205),(0.596,-0.227),(0.62,-0.205),(0.677,-0.21),(0.526,-0.188),
           (0.476,-0.196),(0.411,-0.004),(0.51,-0.285),(0.518,-0.315),(0.486,-0.31),(0.565,-0.285),(0.584,-0.277),
           (0.584,-0.31),(0.598,-0.31),(0.715,-0.234),(0.737,-0.256),(0.765,-0.295),(0.785,-0.299),(0.795,-0.295),
           (0.817,-0.274),(0.847,-0.342),(0.518,-0.396),(0.518,-0.46),(0.504,-0.441),(0.492,-0.477),(0.521,-0.506),
           (0.541,-0.541),(0.527,-0.617),(0.488,-0.707),(0.41,-0.576),(0.418,-0.446),(0.434,-0.467),(0.456,-0.463),
           (0.314,-0.422),(0.321,-0.411),(0.322,-0.503),(0.561,-0.399),(0.561,-0.417),(0.538,-0.489),(0.551,-0.493),
           (0.574,-0.493),(0.598,-0.518),(0.588,-0.565),(0.638,-0.569),(0.658,-0.548),(0.671,-0.514),(0.691,-0.523),
           (0.71,-0.527),(0.698,-0.6),(0.759,-0.425),(0.741,-0.398),(0.598,-0.432),(0.213,0.445),(0.101,-0.398),
           (0.017,-0.388),(-0.003,-0.751)]

AFTER_9 = [(-0.38,-0.58),(-0.37,-0.63),(-0.36,-0.55),(-0.36,-0.67),(-0.35,-0.60),(-0.34,-0.52),(-0.34,-0.64),(-0.33,-0.57),
           (-0.33,-0.69),(-0.32,-0.61),(-0.31,-0.54),(-0.31,-0.66),(-0.30,-0.59),(-0.29,-0.63),(-0.29,-0.51),(-0.28,-0.57),
           (-0.28,-0.68),(-0.27,-0.61),(-0.26,-0.55),(-0.26,-0.65),(-0.25,-0.59),(-0.24,-0.62),(-0.24,-0.52),(-0.23,-0.57),
           (-0.23,-0.67),(-0.22,-0.60),(-0.21,-0.55),(-0.21,-0.64),(-0.20,-0.59),(-0.19,-0.62),(-0.37,-0.50),(-0.32,-0.49),
           (-0.27,-0.70),(-0.22,-0.69),(-0.30,-0.62),(-0.33,-0.60),(-0.27,-0.58),(-0.25,-0.63),(-0.539,-0.014),(-0.41,-0.165),
           (-0.446,-0.257),(-0.47,-0.283),(-0.351,-0.375),(-0.337,-0.396),(-0.358,-0.447),(-0.501,-0.449),(-0.474,-0.496),
           (-0.469,-0.541),(-0.467,-0.564),(-0.429,-0.567),(-0.418,-0.55),(-0.408,-0.588),(-0.422,-0.622),(-0.41,-0.666),
           (-0.394,-0.477),(-0.184,-0.466),(-0.13,-0.172),(-0.131,-0.315),(-0.152,-0.49),(-0.164,-0.564),(-0.14,-0.551),
           (-0.138,-0.572),(-0.122,-0.568),(-0.112,-0.577),(-0.089,-0.547),(-0.122,-0.639),(-0.137,-0.66),(-0.115,-0.672),
           (-0.096,-0.693),(-0.148,-0.714),(-0.188,-0.706),(-0.182,-0.738),(-0.186,-0.769),(-0.203,-0.764),(-0.081,-0.776),
           (-0.056,-0.626),(-0.053,-0.648),(-0.055,-0.694),(-0.043,-0.683),(0.002,-0.648),(0.002,-0.658),(0.027,-0.622),
           (-0.175,-0.632),(-0.208,-0.666),(-0.175,-0.699),(0.374,0.172),(0.441,0.023),(0.121,-0.153),(0.123,-0.638),
           (0.065,-0.736)]

BEFORE = [BEFORE_0, BEFORE_1, BEFORE_2, BEFORE_3, BEFORE_4, BEFORE_5, BEFORE_6, BEFORE_7, BEFORE_8, BEFORE_9]
AFTER = [AFTER_0, AFTER_1, AFTER_2, AFTER_3, AFTER_4, AFTER_5, AFTER_6, AFTER_7, AFTER_8, AFTER_9]

BEFORE_XTICKS = [-0.4, -0.2, 0.0, 0.2, 0.4, 0.6]
BEFORE_YTICKS = [-0.6, -0.4, -0.2, 0.0, 0.2, 0.4, 0.6]
AFTER_XTICKS = [-0.8, -0.6, -0.4, -0.2, 0.0, 0.2, 0.4, 0.6, 0.8]
AFTER_YTICKS = [-0.75, -0.5, -0.25, 0.0, 0.25, 0.5, 0.75]

FONT = "DejaVu Sans"


def tick_fmt(digits):
    # matplotlib-style labels with a real minus sign
    return CustomJSTickFormatter(args=dict(d=digits), code="""
        if (Math.abs(tick) < 1e-9) return (0).toFixed(d);
        const s = Math.abs(tick).toFixed(d);
        return tick < 0 ? "\\u2212" + s : s;
    """)


def make_plot(title, groups, xr, yr, xticks, yticks, xd, yd, left, right, fw):
    p = figure(title=title, x_range=Range1d(*xr), y_range=Range1d(*yr),
               frame_width=fw, frame_height=435,
               min_border_left=left, min_border_right=right,
               min_border_top=69, min_border_bottom=60,
               output_backend="svg", toolbar_location=None)
    for label, color, pts in zip(LABELS, COLORS, groups):
        xs = [a for a, b in pts]
        ys = [b for a, b in pts]
        p.scatter(xs, ys, size=6.2, fill_color=color, line_color=color,
                  line_width=0.9, legend_label=label)

    p.title.align = "center"
    p.title.standoff = 7
    p.title.text_font = FONT
    p.title.text_font_size = "12px"
    p.title.text_font_style = "normal"
    p.title.text_color = "black"

    p.xgrid.visible = False
    p.ygrid.visible = False
    p.outline_line_color = "black"
    p.outline_line_alpha = 1
    p.background_fill_color = "white"

    p.xaxis.ticker = FixedTicker(ticks=xticks)
    p.yaxis.ticker = FixedTicker(ticks=yticks)
    p.xaxis.formatter = tick_fmt(xd)
    p.yaxis.formatter = tick_fmt(yd)
    for ax in (p.xaxis, p.yaxis):
        ax.axis_line_color = "black"
        ax.major_tick_line_color = "black"
        ax.major_tick_out = 4
        ax.major_tick_in = 0
        ax.minor_tick_out = 0
        ax.minor_tick_in = 0
        ax.major_label_text_font = FONT
        ax.major_label_text_font_size = "10px"
        ax.major_label_text_color = "black"
        ax.major_label_standoff = 4

    lg = p.legend[0]
    lg.location = "top_right"
    lg.margin = 5
    lg.padding = 3
    lg.spacing = 3
    lg.glyph_width = 22
    lg.glyph_height = 12
    lg.label_width = 7
    lg.label_height = 12
    lg.label_standoff = 8
    lg.label_text_font = FONT
    lg.label_text_font_size = "10px"
    lg.label_text_color = "black"
    lg.border_line_color = "#cccccc"
    lg.background_fill_alpha = 0.8
    return p


p1 = make_plot("Embeddings before training", BEFORE, (-0.5455, 0.742), (-0.637, 0.675),
               BEFORE_XTICKS, BEFORE_YTICKS, 1, 1, 144, 130, 893)
p2 = make_plot("Embeddings after training", AFTER, (-0.849, 0.941), (-0.859, 0.992),
               AFTER_XTICKS, AFTER_YTICKS, 1, 2, 130, 100, 892)

p = row(p1, p2)
open("out.html", "w").write(file_html(p, INLINE))
